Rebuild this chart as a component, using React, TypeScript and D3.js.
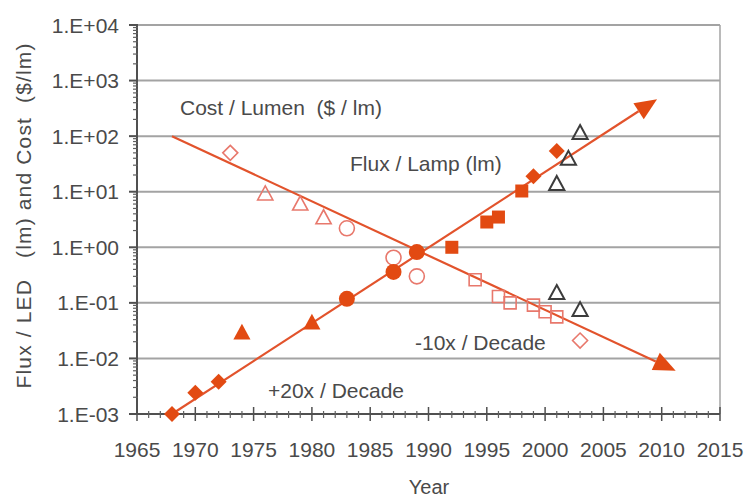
import React from "react";
import * as d3 from "d3";

// ---- data ----
const yearTicks = [1965, 1970, 1975, 1980, 1985, 1990, 1995, 2000, 2005, 2010, 2015];
const valueTicks = [1e-3, 1e-2, 1e-1, 1, 10, 100, 1000, 10000];
const valueTickLabels = ["1.E-03", "1.E-02", "1.E-01", "1.E+00", "1.E+01", "1.E+02", "1.E+03", "1.E+04"];

// Flux / LED (filled markers)
const fluxDiamondYears = [1968, 1970, 1972, 1999, 2001];
const fluxDiamondValues = [0.001, 0.0024, 0.0038, 19, 54];
const fluxTriangleYears = [1974, 1980];
const fluxTriangleValues = [0.029, 0.044];
const fluxCircleYears = [1983, 1987, 1989];
const fluxCircleValues = [0.118, 0.36, 0.82];
const fluxSquareYears = [1992, 1995, 1996, 1998];
const fluxSquareValues = [1.0, 2.85, 3.5, 10.3];
const fluxLampYears = [2001, 2002, 2003];
const fluxLampValues = [13.8, 39, 114];

// Cost / lumen (open markers)
const costDiamondYears = [1973, 2003];
const costDiamondValues = [50, 0.021];
const costTriangleYears = [1976, 1979, 1981];
const costTriangleValues = [9.1, 6.0, 3.4];
const costCircleYears = [1983, 1987, 1989];
const costCircleValues = [2.2, 0.65, 0.3];
const costSquareYears = [1994, 1996, 1997, 1999, 2000, 2001];
const costSquareValues = [0.26, 0.13, 0.1, 0.091, 0.069, 0.056];
const costLampYears = [2001, 2003];
const costLampValues = [0.15, 0.074];

// Trend lines
const fluxTrendYears = [1968, 2009.6];
const fluxTrendValues = [0.001, 460];
const costTrendYears = [1968, 2011.2];
const costTrendValues = [100, 0.006];

// ---- layout ----
const W = 747;
const H = 498;
const left = 137;
const right = 720;
const top = 25;
const bottom = 414;

const FILL = "#e24a12";
const LINE = "#e2532c";
const PINK = "#e8786c";
const DARK = "#3c3c3c";
const TEXT = "#4a4a4a";
const FONT = "Arial, 'Liberation Sans', sans-serif";

const x = d3.scaleLinear().domain([1965, 2015]).range([left, right]);
const y = d3.scaleLog().domain([1e-3, 1e4]).range([bottom, top]);

type Shape = "diamond" | "triangle" | "circle" | "square";

function shapePath(shape: Shape, cx: number, cy: number, s: number): string {
  const p = d3.path();
  if (shape === "diamond") {
    p.moveTo(cx, cy - s);
    p.lineTo(cx + s, cy);
    p.lineTo(cx, cy + s);
    p.lineTo(cx - s, cy);
    p.closePath();
  } else if (shape === "triangle") {
    p.moveTo(cx, cy - s);
    p.lineTo(cx + s * 0.95, cy + s * 0.75);
    p.lineTo(cx - s * 0.95, cy + s * 0.75);
    p.closePath();
  } else if (shape === "square") {
    p.rect(cx - s, cy - s, 2 * s, 2 * s);
  } else {
    p.arc(cx, cy, s, 0, Math.PI * 2);
    p.closePath();
  }
  return p.toString();
}

function Markers(props: {
  years: number[];
  values: number[];
  shape: Shape;
  size: number;
  fill: string;
  stroke: string;
  sw: number;
}) {
  const { years, values, shape, size, fill, stroke, sw } = props;
  return (
    <g>
      {years.map((yr, i) => (
        <path
          key={i}
          d={shapePath(shape, x(yr), y(values[i]), size)}
          fill={fill}
          stroke={stroke}
          strokeWidth={sw}
          strokeLinejoin="miter"
        />
      ))}
    </g>
  );
}

function Trend(props: { years: number[]; values: number[] }) {
  const { years, values } = props;
  const x0 = x(years[0]);
  const y0 = y(values[0]);
  const x1 = x(years[1]);
  const y1 = y(values[1]);
  const ang = Math.atan2(y1 - y0, x1 - x0);
  const L = 22;
  const Wd = 19;
  const bx = x1 - L * Math.cos(ang);
  const by = y1 - L * Math.sin(ang);
  const nx = -Math.sin(ang);
  const ny = Math.cos(ang);
  const head = `M${x1},${y1}L${bx + (nx * Wd) / 2},${by + (ny * Wd) / 2}L${bx - (nx * Wd) / 2},${by - (ny * Wd) / 2}Z`;
  return (
    <g>
      <line x1={x0} y1={y0} x2={bx} y2={by} stroke={LINE} strokeWidth={2.2} />
      <path d={head} fill={FILL} />
    </g>
  );
}

export default function App() {
  const minorYears = d3.range(1965, 2016).filter((v) => v % 5 !== 0);
  const minorValues: number[] = [];
  for (let e = -3; e < 4; e++) {
    for (let m = 2; m <= 9; m++) minorValues.push(m * Math.pow(10, e));
  }
  return (
    <svg
      width={W}
      height={H}
      style={{ position: "absolute", left: 0, top: 0, background: "#fff" }}
      fontFamily={FONT}
    >
      <rect x={0} y={0} width={W} height={H} fill="#fff" />
      {/* grid */}
      {valueTicks.map((v, i) => (
        <line key={i} x1={left} x2={right} y1={y(v)} y2={y(v)} stroke="#a3a3a3" strokeWidth={2} />
      ))}
      <line x1={right} x2={right} y1={top} y2={bottom} stroke="#a3a3a3" strokeWidth={1.5} />

      {/* y axis */}
      <line x1={left} x2={left} y1={top} y2={bottom} stroke="#505050" strokeWidth={2} />
      {minorValues.map((v, i) => (
        <line key={i} x1={left - 4} x2={left + 1} y1={y(v)} y2={y(v)} stroke="#606060" strokeWidth={1.2} />
      ))}
      {valueTicks.map((v, i) => (
        <line key={i} x1={left - 8} x2={left + 1} y1={y(v)} y2={y(v)} stroke="#505050" strokeWidth={2} />
      ))}
      {valueTicks.map((v, i) => (
        <text
          key={i}
          x={119}
          y={y(v)}
          textAnchor="end"
          dominantBaseline="central"
          fontSize={21}
          fill={TEXT}
        >
          {valueTickLabels[i]}
        </text>
      ))}

      {/* x axis */}
      <line x1={left} x2={right} y1={bottom} y2={bottom} stroke="#505050" strokeWidth={2} />
      {minorYears.map((v, i) => (
        <line key={i} x1={x(v)} x2={x(v)} y1={bottom - 3} y2={bottom + 4} stroke="#606060" strokeWidth={1.2} />
      ))}
      {yearTicks.map((v, i) => (
        <line key={i} x1={x(v)} x2={x(v)} y1={bottom - 7} y2={bottom + 7} stroke="#505050" strokeWidth={1.5} />
      ))}
      {yearTicks.map((v, i) => (
        <text key={i} x={x(v)} y={457} textAnchor="middle" fontSize={21} fill={TEXT}>
          {v}
        </text>
      ))}

      {/* axis titles */}
      <text x={429} y={494} textAnchor="middle" fontSize={20} fill={TEXT}>
        Year
      </text>
      <text
        transform="translate(31,216) rotate(-90)"
        textAnchor="middle"
        fontSize={21}
        fill={TEXT}
        textLength={345}
        lengthAdjust="spacing"
        style={{ whiteSpace: "pre" }}
      >
        {"Flux / LED   (lm) and Cost  ($/lm)"}
      </text>

      {/* trend lines */}
      <Trend years={fluxTrendYears} values={fluxTrendValues} />
      <Trend years={costTrendYears} values={costTrendValues} />

      {/* cost (open) */}
      <Markers years={costDiamondYears} values={costDiamondValues} shape="diamond" size={7.5} fill="none" stroke={PINK} sw={1.6} />
      <Markers years={costTriangleYears} values={costTriangleValues} shape="triangle" size={8} fill="none" stroke={PINK} sw={1.6} />
      <Markers years={costCircleYears} values={costCircleValues} shape="circle" size={7.5} fill="#fff" stroke={PINK} sw={1.6} />
      <Markers years={costSquareYears} values={costSquareValues} shape="square" size={6} fill="none" stroke={PINK} sw={1.6} />
      <Markers years={costLampYears} values={costLampValues} shape="triangle" size={8} fill="none" stroke={DARK} sw={2} />

      {/* flux (filled) */}
      <Markers years={fluxDiamondYears} values={fluxDiamondValues} shape="diamond" size={8} fill={FILL} stroke="none" sw={0} />
      <Markers years={fluxTriangleYears} values={fluxTriangleValues} shape="triangle" size={9} fill={FILL} stroke="none" sw={0} />
      <Markers years={fluxCircleYears} values={fluxCircleValues} shape="circle" size={8} fill={FILL} stroke="none" sw={0} />
      <Markers years={fluxSquareYears} values={fluxSquareValues} shape="square" size={6.5} fill={FILL} stroke="none" sw={0} />
      <Markers years={fluxLampYears} values={fluxLampValues} shape="triangle" size={8} fill="none" stroke={DARK} sw={2} />

      {/* annotations */}
      <text x={180} y={115} fontSize={21} fill={TEXT} style={{ whiteSpace: "pre" }}>
        {"Cost / Lumen  ($ / lm)"}
      </text>
      <text x={350} y={171} fontSize={21} fill={TEXT}>
        Flux / Lamp (lm)
      </text>
      <text x={415} y={350} fontSize={21} fill={TEXT}>
        -10x / Decade
      </text>
      <text x={268} y={398} fontSize={21} fill={TEXT}>
        +20x / Decade
      </text>
    </svg>
  );
}
